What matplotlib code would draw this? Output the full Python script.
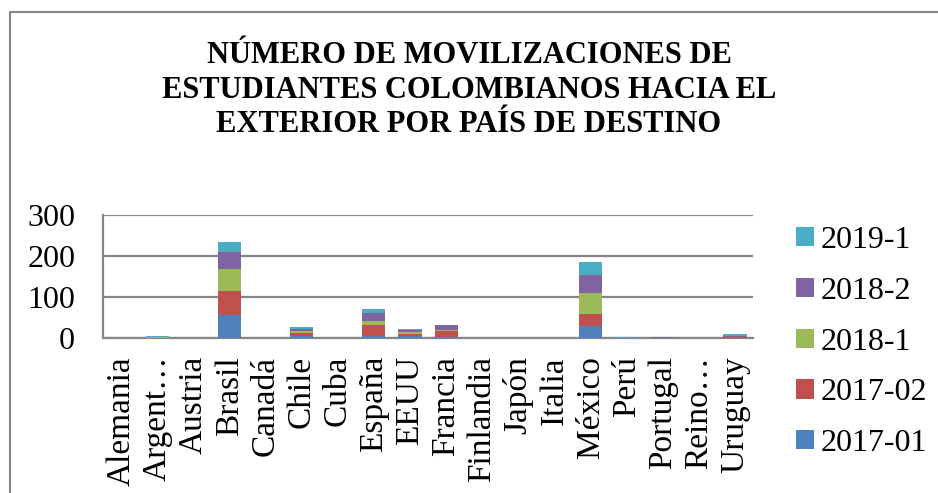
import matplotlib.pyplot as plt
import numpy as np
from matplotlib.patches import Rectangle

paises = ["Alemania", "Argent…", "Austria", "Brasil", "Canadá", "Chile", "Cuba",
          "España", "EEUU", "Francia", "Finlandia", "Japón", "Italia", "México",
          "Perú", "Portugal", "Reino…", "Uruguay"]

s2017_01 = [0, 1, 0, 56, 0, 6, 0, 6, 5, 2, 0, 0, 0, 29, 0, 0, 0, 1]
s2017_02 = [0, 0, 0, 58, 0, 6, 0, 25, 5, 14, 0, 0, 0, 29, 0, 1, 0, 1]
s2018_1 = [0, 1, 0, 55, 0, 6, 0, 11, 4, 4, 0, 0, 0, 51, 1, 0, 0, 0]
s2018_2 = [0, 0, 0, 41, 0, 5, 0, 20, 5, 11, 0, 0, 0, 44, 0, 1, 0, 4]
s2019_1 = [0, 4, 0, 23, 0, 5, 0, 9, 4, 1, 0, 0, 0, 33, 1, 0, 0, 4]

series = [
    ("2017-01", s2017_01, "#4F81BD"),
    ("2017-02", s2017_02, "#C0504D"),
    ("2018-1", s2018_1, "#9BBB59"),
    ("2018-2", s2018_2, "#8064A2"),
    ("2019-1", s2019_1, "#4BACC6"),
]

plt.rcParams["font.family"] = ["Liberation Serif", "DejaVu Serif"]

fig = plt.figure(figsize=(9.38, 4.93), dpi=100)
ax = fig.add_axes([103 / 938, 1 - 338 / 493, 650 / 938, 123 / 493])

x = np.arange(len(paises))
bottom = np.zeros(len(paises))
handles = []
for name, vals, color in series:
    b = ax.bar(x, vals, width=0.64, bottom=bottom, color=color, label=name, zorder=3)
    handles.append(b)
    bottom += np.array(vals)

ax.set_xlim(-0.5, len(paises) - 0.5)
ax.set_ylim(0, 300)
ax.set_yticks([0, 100, 200, 300])
ax.grid(axis="y", color="#868686", linewidth=1.6, zorder=0)
ax.set_xticks(x)
ax.set_xticklabels(paises, rotation=90, ha="center", va="top", fontsize=24)
ax.tick_params(axis="x", length=0, pad=13)
ax.tick_params(axis="y", length=0, pad=20, labelsize=23)
for side in ["top", "right"]:
    ax.spines[side].set_visible(False)
for side in ["left", "bottom"]:
    ax.spines[side].set_color("#868686")
    ax.spines[side].set_linewidth(1.6)

fig.text(0.5, 1 - 90 / 493,
         "NÚMERO DE MOVILIZACIONES DE\nESTUDIANTES COLOMBIANOS HACIA EL\nEXTERIOR POR PAÍS DE DESTINO",
         ha="center", va="center", fontsize=22, fontweight="bold", linespacing=1.24)

fig.legend(handles[::-1], [s[0] for s in series][::-1], loc="center left",
           bbox_to_anchor=(796 / 938, 1 - 342 / 493), bbox_transform=fig.transFigure,
           frameon=False, fontsize=23, handlelength=0.55, handleheight=0.55,
           handletextpad=0.22, labelspacing=0.68, borderpad=0, borderaxespad=0)

fig.patches.append(Rectangle((10 / 938, -0.1), 1.2, 1.1 - 12 / 493, transform=fig.transFigure,
                             fill=False, edgecolor="#868686", linewidth=1.5))

fig.savefig("out.png", dpi=100)
